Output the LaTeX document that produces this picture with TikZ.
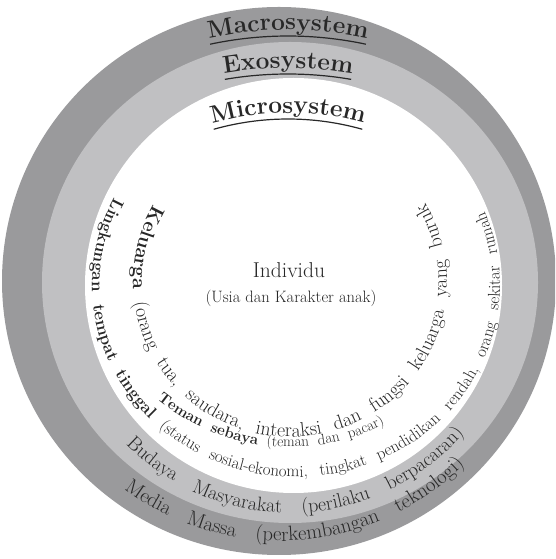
\documentclass[tikz,border=0pt]{standalone}
\usetikzlibrary{decorations.text}
\definecolor{macroc}{RGB}{154,154,156}
\definecolor{exoc}{RGB}{192,192,194}
\definecolor{txtc}{RGB}{40,40,40}
\newcommand\fTitle{\color{txtc}\fontsize{24.5}{28}\selectfont\bfseries}
\newcommand\fKb{\color{txtc}\fontsize{\sK}{\sK}\selectfont\bfseries}
\newcommand\fKr{\color{txtc}\fontsize{\sK}{\sK}\selectfont\mdseries}
\newcommand\fTb{\color{txtc}\fontsize{\sT}{\sT}\selectfont\bfseries}
\newcommand\fTr{\color{txtc}\fontsize{\sT}{\sT}\selectfont\mdseries}
\newcommand\fLb{\color{txtc}\fontsize{\sL}{\sL}\selectfont\bfseries}
\newcommand\fLr{\color{txtc}\fontsize{\sL}{\sL}\selectfont\mdseries}
\newcommand\fBr{\color{txtc}\fontsize{\sB}{\sB}\selectfont\mdseries}
\newcommand\fMr{\color{txtc}\fontsize{\sM}{\sM}\selectfont\mdseries}
\newlength\wMacro
\newlength\wExo
\newlength\wMicro
\newlength\wtmp
\begin{document}
% font sizes so that each curved line fills its arc
\settowidth{\wtmp}{\fontsize{10}{12}\selectfont\bfseries Keluarga\mdseries{} (orang tua, saudara, interaksi dan fungsi keluarga yang buruk}%
\pgfmathsetmacro\sK{10*654.8/\wtmp*0.97}%
\settowidth{\wtmp}{\fontsize{10}{12}\selectfont\bfseries Teman sebaya\mdseries{} (teman dan pacar)}%
\pgfmathsetmacro\sT{10*241.9/\wtmp*0.97}%
\settowidth{\wtmp}{\fontsize{10}{12}\selectfont\bfseries Lingkungan tempat tinggal\mdseries{} (status sosial-ekonomi, tingkat pendidikan rendah, orang sekitar rumah}%
\pgfmathsetmacro\sL{10*793/\wtmp*0.97}%
\settowidth{\wtmp}{\fontsize{10}{12}\selectfont Budaya Masyarakat (perilaku berpacaran)}%
\pgfmathsetmacro\sB{10*380.2/\wtmp*0.97}%
\settowidth{\wtmp}{\fontsize{10}{12}\selectfont Media Massa (perkembangan teknologi)}%
\pgfmathsetmacro\sM{10*372.1/\wtmp*0.97}%
\settowidth{\wMacro}{\fontsize{24.5}{28}\selectfont\bfseries Macrosystem}%
\settowidth{\wExo}{\fontsize{24.5}{28}\selectfont\bfseries Exosystem}%
\settowidth{\wMicro}{\fontsize{24.5}{28}\selectfont\bfseries Microsystem}%
\pgfmathsetmacro\aM{0.5*\wMacro/380*57.29578}%
\pgfmathsetmacro\aE{0.5*\wExo/380*57.29578}%
\pgfmathsetmacro\aI{0.5*\wMicro/280*57.29578}%
\begin{tikzpicture}[x=1pt,y=1pt,
  uline/.style={draw=txtc, line width=1.2pt}]
\useasboundingbox (0,0) rectangle (555,559);
\fill[white] (0,0) rectangle (555,559);
\begin{scope}
\clip (0,0) rectangle (555,559);
\fill[macroc] (279,278) ellipse[x radius=277, y radius=274];
\end{scope}
\fill[exoc] (290,276.5) ellipse[x radius=248, y radius=240.5];
\fill[white] (293.5,273.5) ellipse[x radius=208.5, y radius=207.5];

% titles
\path[decorate, decoration={text along path, text={|\fTitle|Macrosystem}, text align=center}]
  ([shift={(288,149)}]120:380) arc[start angle=120, end angle=60, radius=380];
\draw[uline] ([shift={(288,149)}]{90+\aM}:374) arc[start angle={90+\aM}, end angle={90-\aM}, radius=374];

\path[decorate, decoration={text along path, text={|\fTitle|Exosystem}, text align=center}]
  ([shift={(288,111)}]120:380) arc[start angle=120, end angle=60, radius=380];
\draw[uline] ([shift={(288,111)}]{90+\aE}:374) arc[start angle={90+\aE}, end angle={90-\aE}, radius=374];

\path[decorate, decoration={text along path, text={|\fTitle|Microsystem}, text align=center}]
  ([shift={(288,166)}]130:280) arc[start angle=130, end angle=50, radius=280];
\draw[uline] ([shift={(288,166)}]{90+\aI}:274) arc[start angle={90+\aI}, end angle={90-\aI}, radius=274];

% centre
\node[font=\fontsize{21.5}{25}\selectfont, text=txtc, anchor=base] (ind) at (289,281) {Individu};
\node[font=\fontsize{16.5}{20}\selectfont, text=txtc, anchor=base] (usia) at (291,256) {(Usia dan Karakter anak)};

% micro ring texts
\path[decorate, decoration={text along path, text align={fit to path stretching spaces},
  text={|\fKb|Keluarga|\fKr| (orang tua, saudara, interaksi dan fungsi keluarga yang buruk}}]
  ([shift={(290,277)}]150:157 and 155) arc[start angle=150, end angle=390.5, x radius=157, y radius=155];

\path[decorate, decoration={text along path, text align={fit to path stretching spaces},
  text={|\fTb|Teman sebaya|\fTr| (teman dan pacar)}}]
  ([shift={(290,322)}]230.8:210) arc[start angle=230.8, end angle=296.8, radius=210];

\path[decorate, decoration={text along path, text align={fit to path stretching spaces},
  text={|\fLb|Lingkungan tempat tinggal|\fLr| (status sosial-ekonomi, tingkat pendidikan rendah, orang sekitar rumah}}]
  ([shift={(296,274)}]153:204 and 192) arc[start angle=153, end angle=382.5, x radius=204, y radius=192];

% exo ring text
\path[decorate, decoration={text along path, text align={fit to path stretching spaces},
  text={|\fBr|Budaya Masyarakat (perilaku berpacaran)}}]
  ([shift={(290,276)}]224.5:230) arc[start angle=224.5, end angle=319.2, radius=230];

% macro ring text
\path[decorate, decoration={text along path, text align={fit to path stretching spaces},
  text={|\fMr|Media Massa (perkembangan teknologi)}}]
  ([shift={(280,278)}]233.2:260) arc[start angle=233.2, end angle=315.2, radius=260];
\end{tikzpicture}
\end{document}
